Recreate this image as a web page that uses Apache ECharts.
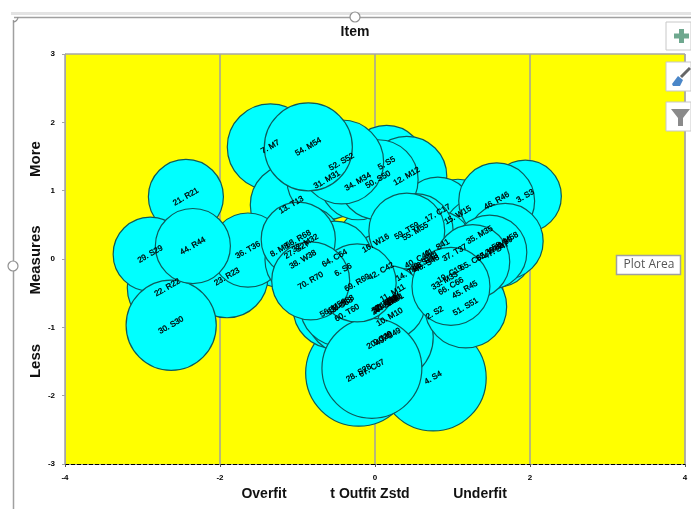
<!DOCTYPE html>
<html><head><meta charset="utf-8">
<script src="https://cdn.jsdelivr.net/npm/echarts@6/dist/echarts.min.js"></script>
<style>html,body{margin:0;padding:0;background:#fff}#c{width:691px;height:509px}</style></head>
<body><div id="c"></div>
<script>
const itemLabels = ["1. S1","2. S2","3. S3","4. S4","5. S5","6. S6","7. M7","8. M8","9. M9","10. M10","11. M11","12. M12","13. T13","14. T14","15. W15","16. W16","17. C17","18. C18","19. C19","20. C20","21. R21","22. R22","23. R23","24. R24","25. S25","26. S26","27. S27","28. S28","29. S29","30. S30","31. M31","32. M32","33. M33","34. M34","35. M35","36. T36","37. T37","38. W38","39. W39","40. C40","41. S41","42. C42","43. R43","44. R44","45. R45","46. R46","47. S47","48. S48","49. C49","50. S50","51. S51","52. S52","53. S53","54. M54","55. M55","56. M56","57. M57","58. M58","59. T59","60. T60","61. W61","62. W62","63. C63","64. C64","65. C65","66. C66","67. C67","68. R68","69. R69","70. R70"];
const outfit = [.26,.77,1.94,.75,.15,-.41,-1.35,-1.23,.10,.19,.23,.41,-1.08,.43,1.07,.01,.81,.14,.97,.06,-2.44,-2.68,-1.91,.17,.62,.12,-1.01,-.21,-2.90,-2.63,-.62,-.90,.90,-.22,1.35,-1.64,1.03,-.93,1.60,.55,.80,.08,.65,-2.35,1.16,1.57,1.57,.67,.17,.04,1.17,-.43,-.43,-.86,.52,-.54,.13,1.68,.41,-.36,.17,1.48,-.45,-.52,1.26,.98,-.04,-.99,-.23,-.83];
const measures = [-.60,-.79,.92,-1.74,1.40,-.16,1.64,.13,-1.16,-.85,-.50,1.21,.79,-.20,.64,.23,.67,-.66,-.22,-1.19,.91,-.42,-.26,-.63,-.06,-.69,.13,-1.67,.07,-.97,1.16,.23,-.32,1.13,.35,.13,.09,-.01,.19,-.01,.16,-.18,-.04,.19,-.45,.85,.13,-.07,-1.14,1.16,-.70,1.42,-.66,1.64,.40,-.72,-.66,.26,.41,-.79,-.64,.10,-.69,.01,-.04,-.40,-1.60,.29,-.35,-.32];
const errorSize = [.86,.86,.81,1.76,.90,.86,1.16,.86,1.0,.90,.86,1.0,1.05,.86,.81,.90,.81,.86,.90,1.38,.88,1.0,1.05,.86,.86,.86,.86,1.76,.86,1.27,1.0,.86,.90,.90,.86,.86,.86,.90,.90,.86,.86,.86,.86,.88,.90,.90,.86,.86,1.27,1.0,1.05,1.10,1.05,1.21,.90,1.0,.86,.90,.90,1.05,.86,.86,1.0,.86,.86,.95,1.56,.86,.95,.95];

const points = itemLabels.map((n,i)=>({name:n,value:[outfit[i],measures[i],errorSize[i]]}));
const chart = echarts.init(document.getElementById('c'),null,{renderer:'canvas'});
const bold = {fontFamily:'Liberation Sans',fontWeight:'bold',color:'#000'};
const gt = (x,y,t,size,rot)=>({type:'text',x,y,rotation:rot||0,z:50,
  style:{text:t,font:`bold ${size}px "Liberation Sans"`,fill:'#111',align:'center',verticalAlign:'middle'}});
const handle = (x,y)=>({type:'circle',z:60,shape:{cx:x,cy:y,r:5},style:{fill:'#fff',stroke:'#909090',lineWidth:1.2}});
chart.setOption({
  animation:false,
  backgroundColor:'#fff',
  grid:{left:65,top:54,width:620,height:410,backgroundColor:'#ffff00',show:true,borderWidth:0,outerBoundsMode:'none',containLabel:false},
  xAxis:{type:'value',min:-4,max:4,interval:2,
    axisLine:{onZero:false,lineStyle:{color:'#000',type:'dashed',width:1}},
    axisTick:{show:true,length:3,lineStyle:{color:'#555',type:'solid'}},
    axisLabel:{...bold,fontSize:8,margin:10,showMinLabel:true,showMaxLabel:true},
    splitLine:{show:true,lineStyle:{color:'#a0a0a0',width:1.5}}},
  yAxis:{type:'value',min:-3,max:3,interval:1,
    axisLine:{show:true,onZero:false,lineStyle:{color:'#a6a6a6',width:1}},
    axisTick:{show:true,length:3,lineStyle:{color:'#a6a6a6'}},
    axisLabel:{...bold,fontSize:8,margin:10,showMinLabel:true,showMaxLabel:true},
    splitLine:{show:false}},
  series:[{type:'scatter',data:points,clip:false,silent:true,
    symbol:'circle',symbolSize:v=>2*40*Math.sqrt(v[2]),
    itemStyle:{color:'#00ffff',borderColor:'#0d5a5a',borderWidth:1.2,opacity:1},
    label:{show:true,position:'inside',formatter:p=>p.name,rotate:30,fontFamily:'Liberation Sans',fontSize:8,color:'#000',fontWeight:'normal',textBorderColor:'#000',textBorderWidth:0.3},
    labelLayout:{hideOverlap:false}}],
  graphic:[
    {type:'rect',z:40,shape:{x:65,y:54,width:620,height:0},style:{stroke:'#a6a6a6',fill:null,lineWidth:1}},
    {type:'line',z:40,shape:{x1:685,y1:54,x2:685,y2:464},style:{stroke:'#a6a6a6',lineWidth:1}},
    {type:'rect',z:40,shape:{x:11,y:12,width:680,height:3},style:{fill:'#e3e3e3'}},
    {type:'line',z:40,shape:{x1:14,y1:17.5,x2:691,y2:17.5},style:{stroke:'#a0a0a0',lineWidth:1.5}},
    {type:'line',z:40,shape:{x1:13.5,y1:20,x2:13.5,y2:509},style:{stroke:'#a0a0a0',lineWidth:1.5}},
    {type:'arc',z:41,shape:{cx:13,cy:17,r:5,startAngle:0,endAngle:Math.PI/2},style:{stroke:'#909090',fill:null,lineWidth:1.2}},
    handle(355,17),handle(13,266),
    gt(355,32,'Item',14),gt(264,494,'Overfit',14),gt(370,494,'t Outfit Zstd',14),gt(480,494,'Underfit',14),
    gt(36,159,'More',15,Math.PI/2),gt(36,260,'Measures',15,Math.PI/2),gt(36,361,'Less',15,Math.PI/2),
    {type:'rect',z:60,shape:{x:666,y:22,width:25,height:28},style:{fill:'#fff',stroke:'#c8c8c8'}},
    {type:'rect',z:61,shape:{x:679,y:29,width:5,height:14},style:{fill:'#6fa88f'}},
    {type:'rect',z:61,shape:{x:674,y:33.5,width:15,height:5},style:{fill:'#6fa88f'}},
    {type:'rect',z:60,shape:{x:666,y:62,width:25,height:29},style:{fill:'#fff',stroke:'#c8c8c8'}},
    {type:'polygon',z:61,shape:{points:[[672,84],[678,76],[683,80],[680,86],[673,86]]},style:{fill:'#4a86c8'}},
    {type:'line',z:61,shape:{x1:681,y1:77,x2:690,y2:68},style:{stroke:'#666',lineWidth:3}},
    {type:'rect',z:60,shape:{x:666,y:102,width:25,height:29},style:{fill:'#fff',stroke:'#c8c8c8'}},
    {type:'polygon',z:61,shape:{points:[[671,109],[690,109],[683,118],[683,126],[678,126],[678,118]]},style:{fill:'#8a8a8a'}},
    {type:'rect',z:60,shape:{x:616.5,y:255.5,width:64,height:19},style:{fill:'#fff',stroke:'#a0a0a0',lineWidth:1.5}},
    {type:'text',z:61,x:649,y:265,style:{text:'Plot Area',font:'12px "Open Sans"',fill:'#555',align:'center',verticalAlign:'middle'}}
  ]
});
</script></body></html>
